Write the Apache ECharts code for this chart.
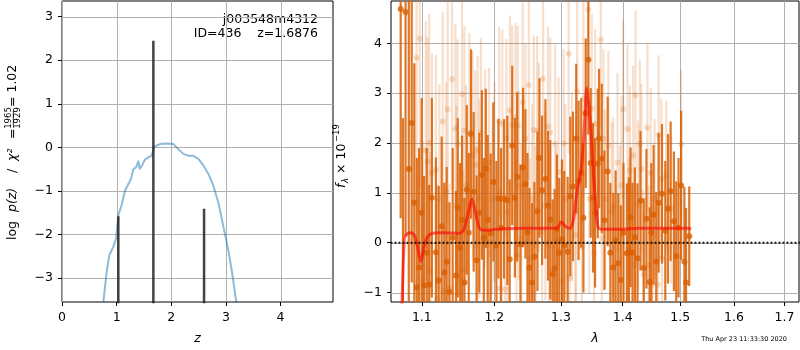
<!DOCTYPE html>
<html>
<head>
<meta charset="utf-8">
<script src="https://cdn.jsdelivr.net/npm/echarts@6/dist/echarts.min.js"></script>
<style>
  html, body { margin: 0; padding: 0; background: #fff; }
  #chart { width: 800px; height: 350px; }
</style>
</head>
<body>
<div id="chart"></div>
<script>
// left panel: log p(z)
const pzZ   = [0.70, 0.757, 0.818, 0.867, 0.94, 0.99, 1.03, 1.09, 1.154, 1.215, 1.264, 1.306, 1.355, 1.38, 1.40, 1.42, 1.46, 1.52, 1.58, 1.64, 1.69, 1.795, 1.92, 2.04, 2.13, 2.22, 2.31, 2.40, 2.50, 2.59, 2.68, 2.77, 2.86, 2.95, 3.05, 3.11, 3.19, 3.25];
const pzLog = [-5.0, -3.55, -2.85, -2.47, -2.28, -2.09, -1.56, -1.33, -0.99, -0.84, -0.72, -0.50, -0.46, -0.48, -0.31, -0.50, -0.42, -0.28, -0.23, -0.19, 0.02, 0.075, 0.09, 0.075, -0.04, -0.15, -0.19, -0.19, -0.27, -0.42, -0.61, -0.88, -1.26, -1.79, -2.40, -2.85, -3.55, -5.0];
const spikeZ   = [1.031, 1.672, 2.600];
const spikeTop = [-1.58, 2.45, -1.41];
const pzXTicks = [0, 1, 2, 3, 4];
const pzYTicks = [-3, -2, -1, 0, 1, 2, 3];

// right panel: spectrum [lambda, flux, err]
const darkSpec = [
  [1.0724, 4.69, 4.2], [1.0753, -1.50, 4.0], [1.0787, 4.63, 4.5], [1.0829, 1.48, 3.6], [1.0867, 2.40, 3.2],
  [1.0901, 0.80, 2.8], [1.0934, -0.90, 2.6], [1.0964, -0.50, 2.4], [1.0998, 0.60, 2.3], [1.1029, -0.86, 2.2],
  [1.1065, -0.20, 2.1], [1.1097, -0.84, 2.0], [1.1133, 0.90, 2.0], [1.1188, -0.19, 1.9], [1.1224, -0.76, 1.9],
  [1.1265, 0.33, 1.8], [1.1302, -0.60, 1.8], [1.1333, -0.38, 1.9], [1.1370, -0.99, 1.8], [1.1415, 0.10, 1.8],
  [1.1461, -0.66, 1.7], [1.1484, 0.70, 1.8], [1.1517, -0.10, 1.7], [1.1544, 0.45, 1.7], [1.1577, -0.80, 1.7],
  [1.1609, 1.06, 1.7], [1.1637, 0.20, 1.6], [1.1669, 2.18, 1.7], [1.1706, 1.02, 1.6], [1.1748, -0.35, 1.7],
  [1.1785, 0.60, 1.6], [1.1822, 1.36, 1.7], [1.1850, 0.10, 1.6], [1.1878, 1.49, 1.6], [1.1905, 0.46, 1.7],
  [1.1948, 0.19, 1.6], [1.1987, 1.22, 1.6], [1.2030, -0.06, 1.7], [1.2059, 0.88, 1.6], [1.2098, 0.30, 1.6],
  [1.2141, 0.88, 1.6], [1.2189, 0.85, 1.7], [1.2223, -0.33, 1.6], [1.2261, 1.95, 1.6], [1.2300, 0.90, 1.6],
  [1.2334, 1.32, 1.7], [1.2382, -0.03, 1.6], [1.2421, 1.51, 1.6], [1.2456, 1.18, 1.5], [1.2487, 0.20, 1.6],
  [1.2517, -0.50, 1.6], [1.2557, -0.80, 1.6], [1.2592, -0.28, 1.5], [1.2638, 0.63, 1.6], [1.2668, 1.70, 1.6],
  [1.2708, 1.05, 1.5], [1.2759, 1.28, 1.6], [1.2799, 0.74, 1.5], [1.2834, 0.46, 1.6], [1.2870, -0.63, 1.5],
  [1.2900, -0.52, 1.6], [1.2936, 0.27, 1.5], [1.2973, -0.20, 1.5], [1.3015, 0.07, 1.6], [1.3051, -0.06, 1.5],
  [1.3104, -0.18, 1.5], [1.3146, 0.93, 1.6], [1.3188, 1.13, 1.5], [1.3240, 2.09, 1.5], [1.3277, 1.25, 1.6],
  [1.3319, 1.40, 1.5], [1.3355, 0.50, 1.5], [1.3392, 2.60, 1.5], [1.3434, 3.67, 1.5], [1.3472, 1.60, 1.5],
  [1.3510, 0.90, 1.5], [1.3543, 0.60, 1.5], [1.3587, 1.59, 1.5], [1.3608, 2.09, 1.4], [1.3652, 1.69, 1.5],
  [1.3696, 0.45, 1.4], [1.3750, 1.43, 1.5], [1.3794, -0.20, 1.4], [1.3843, -0.50, 1.5], [1.3881, 0.05, 1.4],
  [1.3925, -0.41, 1.4], [1.3968, -0.75, 1.5], [1.4013, 0.20, 1.4], [1.4070, -0.21, 1.4], [1.4104, -0.19, 1.5],
  [1.4132, 0.51, 1.4], [1.4166, -0.20, 1.4], [1.4206, 0.11, 1.4], [1.4251, -0.31, 1.5], [1.4302, 0.84, 1.4],
  [1.4359, -0.51, 1.4], [1.4404, 0.48, 1.4], [1.4461, -0.79, 1.5], [1.4489, 0.20, 1.4], [1.4529, 0.56, 1.4],
  [1.4575, -0.38, 1.4], [1.4617, 0.80, 1.4], [1.4676, 0.98, 1.4], [1.4734, 0.24, 1.4], [1.4782, 0.68, 1.5],
  [1.4829, 1.03, 1.4], [1.4888, 0.43, 1.4], [1.4929, -0.27, 1.5], [1.4970, 0.30, 1.4], [1.5017, 1.15, 1.5],
  [1.5076, -0.38, 1.5], [1.5106, -0.80, 1.5], [1.5164, 0.13, 1.0]
];
const lightSpec = [
  [1.0930, 3.71, 3.3], [1.0972, 4.09, 3.0], [1.1015, -0.76, 2.8], [1.1052, 1.85, 2.6], [1.1074, 1.63, 2.5],
  [1.1097, 2.00, 2.6], [1.1111, -0.58, 2.4], [1.1133, 1.40, 2.4], [1.1188, 1.47, 2.3], [1.1202, -1.14, 2.3],
  [1.1234, 0.88, 2.3], [1.1279, 2.43, 2.2], [1.1293, -0.98, 2.2], [1.1325, 1.02, 2.2], [1.1347, 2.68, 2.3],
  [1.1370, -0.91, 2.1], [1.1406, 3.28, 2.2], [1.1452, 2.29, 2.1], [1.1466, 0.75, 2.0], [1.1484, 1.98, 2.1],
  [1.1544, 2.98, 2.0], [1.1563, -0.54, 2.0], [1.1577, 2.25, 2.1], [1.1600, 1.15, 2.0], [1.1646, 2.21, 2.0],
  [1.1692, 1.75, 2.1], [1.1729, 1.56, 1.9], [1.1748, -0.05, 2.0], [1.1762, 1.85, 1.9], [1.1785, 0.88, 2.0],
  [1.1808, 2.21, 1.9], [1.1868, 1.48, 2.0], [1.1924, 1.61, 1.9], [1.1934, -0.01, 2.0], [1.1972, 0.88, 1.9],
  [1.2001, 1.22, 2.0], [1.2069, 2.43, 1.9], [1.2083, -0.92, 2.0], [1.2117, 2.38, 1.9], [1.2155, -0.94, 1.9],
  [1.2175, 2.09, 2.0], [1.2189, 0.62, 1.9], [1.2228, 2.66, 1.9], [1.2261, 2.36, 2.0], [1.2310, 2.51, 1.9],
  [1.2324, -0.25, 1.9], [1.2343, 2.35, 2.0], [1.2358, 1.15, 1.9], [1.2396, 0.09, 1.9], [1.2416, 2.82, 2.0],
  [1.2456, 2.09, 1.9], [1.2507, 3.16, 1.9], [1.2522, -0.31, 2.0], [1.2557, 0.88, 1.9], [1.2582, 2.26, 1.9],
  [1.2608, -0.05, 2.0], [1.2633, 2.25, 1.9], [1.2658, 1.71, 1.9], [1.2708, 0.22, 2.0], [1.2723, 3.29, 1.9],
  [1.2759, 0.75, 1.9], [1.2799, 2.33, 2.0], [1.2814, -0.05, 1.9], [1.2834, 2.21, 1.9], [1.2910, 1.98, 2.0],
  [1.2926, 0.02, 1.9], [1.2962, 1.42, 1.9], [1.3015, -0.78, 2.0], [1.3041, 1.99, 1.9], [1.3067, 0.88, 1.9],
  [1.3120, 3.79, 2.0], [1.3135, -0.71, 1.9], [1.3172, 1.12, 1.9], [1.3224, 0.15, 2.0], [1.3240, 0.62, 1.9],
  [1.3256, 3.04, 1.9], [1.3329, -0.08, 1.9], [1.3355, 2.89, 2.0], [1.3434, 4.68, 1.9], [1.3450, 0.88, 1.9],
  [1.3489, 2.69, 1.9], [1.3527, -0.21, 1.8], [1.3543, 2.38, 1.9], [1.3636, 4.07, 1.8], [1.3652, 0.09, 1.9],
  [1.3679, 2.08, 1.8], [1.3706, 0.88, 1.8], [1.3761, 1.95, 1.9], [1.3816, 0.62, 1.8], [1.3843, 0.72, 1.8],
  [1.3913, 1.61, 1.8], [1.3952, 0.15, 1.8], [1.3979, 1.15, 1.8], [1.4007, 2.68, 1.8], [1.4081, 2.28, 1.7],
  [1.4104, -0.11, 1.8], [1.4121, 1.45, 1.7], [1.4177, 1.75, 1.8], [1.4206, -0.45, 1.7], [1.4217, 2.96, 1.7],
  [1.4263, 0.75, 1.7], [1.4291, 1.98, 1.7], [1.4319, 1.48, 1.7], [1.4348, -0.64, 1.7], [1.4421, 2.31, 1.7],
  [1.4444, -0.45, 1.6], [1.4478, 1.40, 1.7], [1.4506, -0.84, 1.6], [1.4546, 0.88, 1.6], [1.4605, -0.84, 1.6],
  [1.4617, 2.16, 1.6], [1.4664, 1.28, 1.6], [1.4676, -0.31, 1.6], [1.4752, 1.35, 1.5], [1.4840, 0.68, 1.5],
  [1.5017, 1.97, 1.5]
];
const modelLam  = [1.0700, 1.0741, 1.0774, 1.0817, 1.0859, 1.0901, 1.0943, 1.0985, 1.1029, 1.1074, 1.1143, 1.1279, 1.1507, 1.1563, 1.1623, 1.1683, 1.1739, 1.1794, 1.1878, 1.2020, 1.2406, 1.2936, 1.3004, 1.3067, 1.3146, 1.3198, 1.3251, 1.3319, 1.3371, 1.3408, 1.3461, 1.3499, 1.3543, 1.3598, 1.3706, 1.3979, 1.4263, 1.5135, 1.5200];
const modelFlux = [-3.0, -1.2, 0.09, 0.19, 0.20, 0.15, -0.08, -0.38, -0.08, 0.12, 0.19, 0.20, 0.19, 0.25, 0.55, 0.88, 0.55, 0.27, 0.25, 0.27, 0.29, 0.29, 0.42, 0.33, 0.29, 0.48, 1.02, 1.48, 2.35, 3.11, 2.48, 1.75, 0.95, 0.29, 0.27, 0.27, 0.29, 0.29, 0.28];
const lamTicks  = [1.1, 1.2, 1.3, 1.4, 1.5, 1.6, 1.7];
const fluxTicks = [-1, 0, 1, 2, 3, 4];

const FONT = 'DejaVu Sans';
const lg = Math.log10;
const minus = v => (v < 0 ? '\u2212' + (-v) : String(v));

function errBar(color, width) {
  return function (params, api) {
    const x = api.value(0), y = api.value(1), e = api.value(2);
    const a = api.coord([x, y - e]), b = api.coord([x, y + e]);
    return { type: 'line', shape: { x1: a[0], y1: a[1], x2: b[0], y2: b[1] },
      style: { stroke: color, lineWidth: width } };
  };
}

// grid lines as a custom series: [x, y, kind] kind 0 = vertical at x, 1 = horizontal at y
function gridSeries(i, xs, ys, xIn, yIn) {
  return {
    type: 'custom', xAxisIndex: i, yAxisIndex: i, silent: true,
    data: xs.map(v => [v, yIn, 0]).concat(ys.map(v => [xIn, v, 1])),
    renderItem: function (params, api) {
      const cs = params.coordSys;
      const p = api.coord([api.value(0), api.value(1)]);
      const vert = api.value(2) === 0;
      const px = Math.round(p[0]) + 0.5, py = Math.round(p[1]) + 0.5;
      const shape = vert ? { x1: px, y1: cs.y, x2: px, y2: cs.y + cs.height }
                         : { x1: cs.x, y1: py, x2: cs.x + cs.width, y2: py };
      return { type: 'line', shape: shape, style: { stroke: '#b0b0b0', lineWidth: 1 } };
    }
  };
}

function axisCommon(ticks, fmt) {
  return {
    axisLine: { show: false, onZero: false },
    axisTick: { show: true, length: 4, lineStyle: { color: '#000', width: 1 }, customValues: ticks },
    axisLabel: { customValues: ticks, formatter: fmt, color: '#000', fontSize: 12.5, fontFamily: FONT, margin: 9 },
    splitLine: { show: false }
  };
}

const chart = echarts.init(document.getElementById('chart'), null, { renderer: 'canvas' });
const option = {
  animation: false,
  backgroundColor: '#fff',
  grid: [
    { left: 62, top: 1, right: 467, bottom: 46, show: true, borderColor: '#000', borderWidth: 1, backgroundColor: 'transparent' },
    { left: 391, top: 1, right: 1, bottom: 46, show: true, borderColor: '#000', borderWidth: 1, backgroundColor: 'transparent' }
  ],
  xAxis: [
    Object.assign({ type: 'value', gridIndex: 0, min: 0, max: 4.96,
      name: 'z', nameLocation: 'middle', nameGap: 30,
      nameTextStyle: { fontSize: 12.5, fontFamily: FONT, fontStyle: 'italic', color: '#000' } },
      axisCommon(pzXTicks, v => minus(v))),
    Object.assign({ type: 'value', gridIndex: 1, min: lg(1.06), max: lg(1.73),
      name: '\u03bb', nameLocation: 'middle', nameGap: 30,
      nameTextStyle: { fontSize: 12.5, fontFamily: FONT, fontStyle: 'italic', color: '#000' } },
      axisCommon(lamTicks.map(lg), v => Math.pow(10, v).toFixed(1)))
  ],
  yAxis: [
    Object.assign({ type: 'value', gridIndex: 0, min: -3.55, max: 3.36 },
      axisCommon(pzYTicks, v => minus(v))),
    Object.assign({ type: 'value', gridIndex: 1, min: -1.19, max: 4.85 },
      axisCommon(fluxTicks, v => minus(v)))
  ],
  series: [
    gridSeries(0, pzXTicks, pzYTicks, 2, 0),
    gridSeries(1, lamTicks.map(lg), fluxTicks, lg(1.3), 1),
    { type: 'line', xAxisIndex: 0, yAxisIndex: 0, showSymbol: false, clip: true,
      data: pzZ.map((z, i) => [z, pzLog[i]]),
      lineStyle: { color: '#1f77b4', width: 2, opacity: 0.5 } },
    { type: 'line', xAxisIndex: 0, yAxisIndex: 0, showSymbol: false, clip: true,
      data: spikeZ.flatMap((z, i) => [[z, -10], [z, spikeTop[i]], [z, -10]]),
      lineStyle: { color: '#222', width: 2.5, opacity: 0.85 } },

    { type: 'custom', xAxisIndex: 1, yAxisIndex: 1, clip: true,
      renderItem: errBar('rgba(217,95,2,0.2)', 2.2),
      data: lightSpec.map(d => [lg(d[0]), d[1], d[2]]) },
    { type: 'scatter', xAxisIndex: 1, yAxisIndex: 1, symbolSize: 6,
      itemStyle: { color: 'rgba(217,95,2,0.25)' },
      data: lightSpec.map(d => [lg(d[0]), d[1]]) },
    { type: 'custom', xAxisIndex: 1, yAxisIndex: 1, clip: true,
      renderItem: errBar('rgba(217,95,2,0.85)', 2.2),
      data: darkSpec.map(d => [lg(d[0]), d[1], d[2]]) },
    { type: 'scatter', xAxisIndex: 1, yAxisIndex: 1, symbolSize: 6,
      itemStyle: { color: 'rgb(217,95,2)' },
      data: darkSpec.map(d => [lg(d[0]), d[1]]) },
    { type: 'line', xAxisIndex: 1, yAxisIndex: 1, showSymbol: false, clip: true, smooth: 0.25,
      data: modelLam.map((l, i) => [lg(l), modelFlux[i]]),
      lineStyle: { color: '#ff0000', width: 3, opacity: 0.6 } },
    { type: 'line', xAxisIndex: 1, yAxisIndex: 1, showSymbol: false, clip: true,
      data: [[lg(1.0), 0], [lg(2.0), 0]],
      lineStyle: { color: '#000', width: 2, type: [2, 2], opacity: 0.9 } }
  ],
  graphic: [
    { type: 'text', x: 318, y: 20, style: { text: 'j003548m4312', fontSize: 12.5, fontFamily: FONT, fill: '#000', align: 'right', verticalAlign: 'middle' } },
    { type: 'text', x: 318, y: 34, style: { text: 'ID=436    z=1.6876', fontSize: 12.5, fontFamily: FONT, fill: '#000', align: 'right', verticalAlign: 'middle' } },
    { type: 'text', x: 787, y: 339, style: { text: 'Thu Apr 23 11:33:30 2020', fontSize: 6.5, fontFamily: FONT, fill: '#000', align: 'right', verticalAlign: 'middle' } },
    { type: 'group', x: 13, y: 154, rotation: Math.PI / 2, children: [
      { type: 'text', x: -86, y: 0, style: { text: 'log', fontSize: 12.5, fontFamily: FONT, fill: '#000', align: 'left', verticalAlign: 'middle' } },
      { type: 'text', x: -58, y: 0, style: { text: 'p(z)', fontSize: 12.5, fontFamily: FONT, fontStyle: 'italic', fill: '#000', align: 'left', verticalAlign: 'middle' } },
      { type: 'text', x: -19, y: 0, style: { text: '/', fontSize: 12.5, fontFamily: FONT, fill: '#000', align: 'left', verticalAlign: 'middle' } },
      { type: 'text', x: -7, y: 0, style: { text: '\u03c7\u00b2', fontSize: 12.5, fontFamily: FONT, fontStyle: 'italic', fill: '#000', align: 'left', verticalAlign: 'middle' } },
      { type: 'text', x: 15, y: 0, style: { text: '=', fontSize: 12.5, fontFamily: FONT, fill: '#000', align: 'left', verticalAlign: 'middle' } },
      { type: 'text', x: 36, y: -4.5, style: { text: '1965', fontSize: 8.5, fontFamily: FONT, fill: '#000', align: 'center', verticalAlign: 'middle' } },
      { type: 'line', shape: { x1: 28.5, y1: 0.3, x2: 43.5, y2: 0.3 }, style: { stroke: '#000', lineWidth: 0.8 } },
      { type: 'text', x: 36, y: 5, style: { text: '1929', fontSize: 8.5, fontFamily: FONT, fill: '#000', align: 'center', verticalAlign: 'middle' } },
      { type: 'text', x: 47, y: 0, style: { text: '= 1.02', fontSize: 12.5, fontFamily: FONT, fill: '#000', align: 'left', verticalAlign: 'middle' } }
    ] },
    { type: 'group', x: 342, y: 154, rotation: Math.PI / 2, children: [
      { type: 'text', x: -34, y: 0, style: { text: 'f', fontSize: 12.5, fontFamily: FONT, fontStyle: 'italic', fill: '#000', align: 'left', verticalAlign: 'middle' } },
      { type: 'text', x: -29, y: 3.5, style: { text: '\u03bb', fontSize: 8.5, fontFamily: FONT, fontStyle: 'italic', fill: '#000', align: 'left', verticalAlign: 'middle' } },
      { type: 'text', x: -20, y: 0, style: { text: '\u00d7 10', fontSize: 12.5, fontFamily: FONT, fill: '#000', align: 'left', verticalAlign: 'middle' } },
      { type: 'text', x: 12, y: -5, style: { text: '\u221219', fontSize: 8.5, fontFamily: FONT, fill: '#000', align: 'left', verticalAlign: 'middle' } }
    ] }
  ]
};
chart.setOption(option);
</script>
</body>
</html>
